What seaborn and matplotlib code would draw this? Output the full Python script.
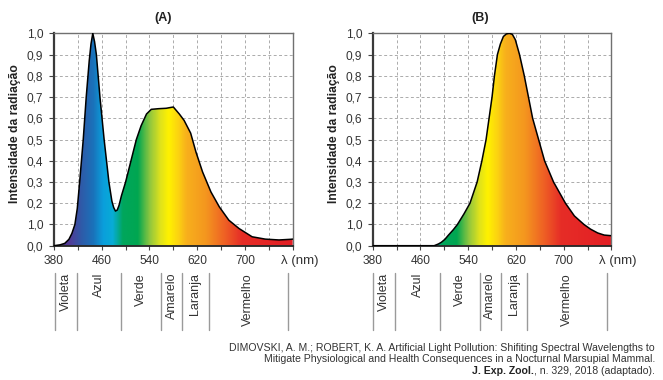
import numpy as np
import matplotlib
matplotlib.use('Agg')
import matplotlib.pyplot as plt
from matplotlib.colors import LinearSegmentedColormap
import seaborn as sns

# spectrum A (LED branco)
wl_a = [380, 390, 398, 405, 410, 415, 419, 423, 429, 434, 439, 442, 445, 448,
        451, 457, 464, 468, 472, 477, 480, 483, 486, 489, 493, 500, 509, 518,
        526, 535, 543, 555, 568, 580, 590, 598, 609, 618, 629, 643, 657, 673,
        690, 712, 734, 757, 776, 780]
int_a = [0.0, 0.004, 0.011, 0.03, 0.058, 0.1, 0.175, 0.3, 0.5, 0.7, 0.87, 0.95, 1.0, 0.96,
         0.9, 0.7, 0.5, 0.4, 0.3, 0.21, 0.18, 0.163, 0.168, 0.19, 0.235, 0.3, 0.4, 0.5,
         0.565, 0.62, 0.642, 0.645, 0.647, 0.653, 0.62, 0.59, 0.53, 0.44, 0.347, 0.253, 0.183, 0.12,
         0.081, 0.042, 0.031, 0.027, 0.03, 0.031]

# spectrum B (LED âmbar)
wl_b = [380, 483, 490, 495, 501, 507, 515, 522, 533, 543, 549, 555, 563, 570,
        575, 580, 584, 589, 594, 599, 604, 609, 614, 619, 626, 634, 641, 648,
        658, 668, 683, 693, 703, 718, 734, 745, 757, 768, 780]
int_b = [0.0, 0.0, 0.008, 0.016, 0.03, 0.05, 0.075, 0.1, 0.15, 0.2, 0.25, 0.3, 0.4, 0.5,
         0.6, 0.7, 0.8, 0.9, 0.95, 0.985, 0.997, 1.0, 0.995, 0.97, 0.9, 0.8, 0.7, 0.6,
         0.5, 0.4, 0.3, 0.25, 0.2, 0.14, 0.1, 0.078, 0.06, 0.05, 0.047]

y_ticks = [0.0, 0.1, 0.2, 0.3, 0.4, 0.5, 0.6, 0.7, 0.8, 0.9, 1.0]
y_labels = ['0,0', '1,0', '0,2', '0,3', '0,4', '0,5', '0,6', '0,7', '0,8', '0,9', '1,0']
x_ticks = [380, 420, 460, 500, 540, 580, 620, 660, 700, 740, 780]
x_labels = ['380', '', '460', '', '540', '', '620', '', '700', '', '']

bands = ['Violeta', 'Azul', 'Verde', 'Amarelo', 'Laranja', 'Vermelho']
band_edges = [381, 418, 493, 559, 595, 639, 772]

citation = ['DIMOVSKI, A. M.; ROBERT, K. A. Artificial Light Pollution: Shifiting Spectral Wavelengths to',
            'Mitigate Physiological and Health Consequences in a Nocturnal Marsupial Mammal.']
cit_bold = 'J. Exp. Zool.'
cit_tail = ', n. 329, 2018 (adaptado).'

sns.set_theme(style='ticks')
plt.rcParams['font.family'] = ['Liberation Sans', 'DejaVu Sans']

# visible spectrum colours
spec_stops = [(380, '#4a2b82'), (405, '#523a96'), (425, '#2f5aa8'), (445, '#1a72ba'),
              (462, '#0a9fdc'), (478, '#08acd6'), (495, '#00a65c'), (520, '#00a651'),
              (540, '#8dc63f'), (558, '#dfe21c'), (572, '#fff200'), (588, '#fcd311'),
              (602, '#f8b01c'), (635, '#f4961f'), (665, '#ef6324'), (695, '#e62d27'),
              (780, '#e31e24')]
cmap = LinearSegmentedColormap.from_list('spec', [((w - 380) / 400, c) for w, c in spec_stops])

W, H = 663, 380
fig = plt.figure(figsize=(W / 100, H / 100), dpi=100)


def panel(left_px, wl, inten, tag, title_x):
    ax = fig.add_axes([left_px / W, (H - 245.7) / H, 238.7 / W, 212.4 / H])
    grad = np.linspace(380, 780, 800).reshape(1, -1)
    im = ax.imshow(grad, extent=[380, 780, 0, 1], aspect='auto', cmap=cmap,
                   vmin=380, vmax=780, origin='lower', zorder=2)
    poly = ax.fill_between(wl, inten, 0, color='none', lw=0)
    im.set_clip_path(poly.get_paths()[0], ax.transData)
    sns.lineplot(x=wl, y=inten, color='black', lw=1.1, ax=ax, estimator=None, zorder=3)
    ax.set_xlim(380, 780)
    ax.set_ylim(0, 1)
    ax.set_xticks(x_ticks, x_labels)
    ax.set_yticks(y_ticks, y_labels)
    ax.grid(True, ls=(0, (3, 2.5)), color='#ababab', lw=0.7)
    ax.set_axisbelow(True)
    for s in ['top', 'right']:
        ax.spines[s].set_color('#707070')
        ax.spines[s].set_linewidth(1.0)
    ax.spines['left'].set_color('#3a3a3a')
    ax.spines['left'].set_linewidth(1.6)
    ax.spines['bottom'].set_color('#222222')
    ax.spines['bottom'].set_linewidth(1.3)
    ax.tick_params(axis='y', direction='out', length=3.6, width=0.8, color='#444',
                   labelsize=8.6, labelcolor='#333', pad=4)
    ax.tick_params(axis='x', direction='out', length=3, width=0.8, color='#444',
                   labelsize=8.6, labelcolor='#333', pad=3.5)
    tr = ax.get_xaxis_transform()
    ax.annotate('λ (nm)', xy=(791, 0), xycoords=tr, xytext=(0, -6.5),
                textcoords='offset points', ha='center', va='top',
                fontsize=9.5, color='#333', annotation_clip=False)
    for e in band_edges:
        ax.plot([e, e], [-0.128, -0.397], transform=tr, color='#9a9a9a', lw=1,
                clip_on=False)
    for name, a, b in zip(bands, band_edges[:-1], band_edges[1:]):
        ax.text((a + b) / 2, -0.128, name, rotation=90, ha='center', va='top',
                transform=tr, fontsize=9, color='#333')
    fig.text((left_px - 39) / W, 1 - 133.5 / H, 'Intensidade da radiação',
             rotation=90, ha='center', va='center', fontsize=8.7,
             fontweight='bold', color='#222')
    fig.text(title_x / W, 1 - 18 / H, tag, ha='center', va='center',
             fontsize=9, fontweight='bold', color='#222')
    return ax


panel(54, wl_a, int_a, '(A)', 163)
panel(372.7, wl_b, int_b, '(B)', 480)

right = 655 / W
fs = 7.6
fig.text(right, 1 - 348.3 / H, citation[0], ha='right', va='center', fontsize=fs, color='#333')
fig.text(right, 1 - 359.5 / H, citation[1], ha='right', va='center', fontsize=fs, color='#333')
tail = fig.text(right, 1 - 370.7 / H, cit_tail, ha='right', va='center', fontsize=fs, color='#333')
rend = fig.canvas.get_renderer()
bb = tail.get_window_extent(rend)
fig.text(bb.x0 / W, 1 - 370.7 / H, cit_bold, ha='right', va='center', fontsize=fs,
         fontweight='bold', color='#222')

fig.savefig('out.png', dpi=100)
